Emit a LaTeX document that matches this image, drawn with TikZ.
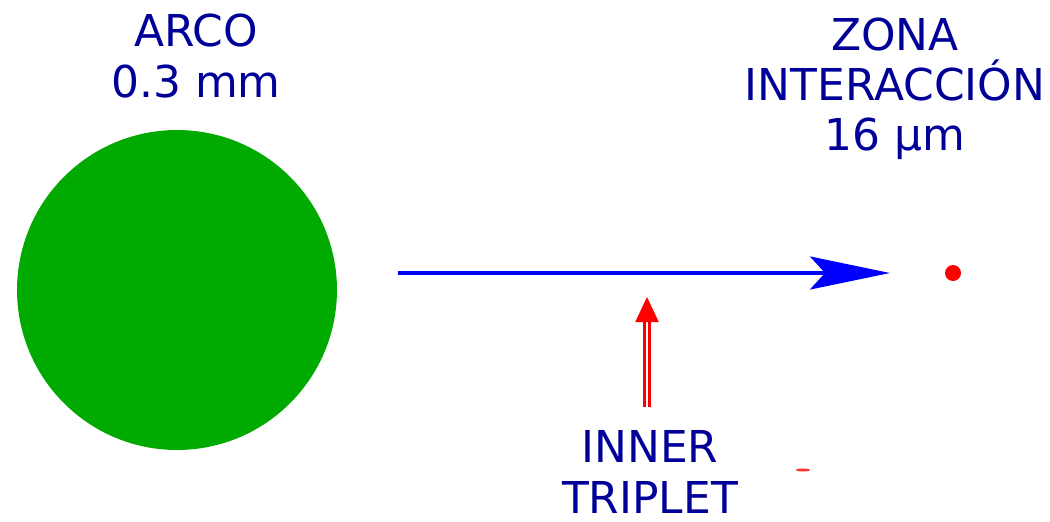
\documentclass[tikz,border=0pt]{standalone}
\usepackage{fontspec}
\setmainfont{DejaVu Sans}
\usetikzlibrary{arrows.meta, positioning}
\definecolor{azultexto}{RGB}{0,0,153}
\definecolor{verdearco}{RGB}{0,170,0}

\begin{document}
\begin{tikzpicture}[
    x=0.02cm, y=-0.02cm,
    rotulo/.style={text=azultexto, align=center, font=\fontsize{25}{28.5}\selectfont, inner sep=0pt},
    haz/.style={-{Stealth[length=1.6cm, width=0.66cm, inset=0.3cm]}, draw=blue, line width=2pt},
    flecha/.style={-{Triangle[length=0.5cm, width=0.46cm]}, draw=red, double=white, double distance=1.4pt, line width=1.3pt}
]
\useasboundingbox (0,0) rectangle (1050,521);

\node[circle, fill=verdearco, minimum size=6.4cm, inner sep=0pt] (arco) at (177,290) {};
\node[circle, fill=red, minimum size=0.32cm, inner sep=0pt] (punto) at (953,273) {};

\node[rotulo] (arcotxt) at (196,56) {ARCO\\0.3 mm};
\node[rotulo] (zona) at (895,89) {ZONA\\INTERACCIÓN\\16 µm};
\node[rotulo] (triplet) at (650,472) {INNER\\TRIPLET};

\coordinate (inicio) at (398,273);
\coordinate (fin) at (890,273);
\coordinate (pie) at (647,407);
\coordinate (punta) at (647,297);

\draw[haz] (inicio) -- (fin);
\draw[flecha] (pie) -- (punta);

% resto rojo abajo
\fill[red!80] (803,470) ellipse (7 and 1.5);

\end{tikzpicture}
\end{document}
